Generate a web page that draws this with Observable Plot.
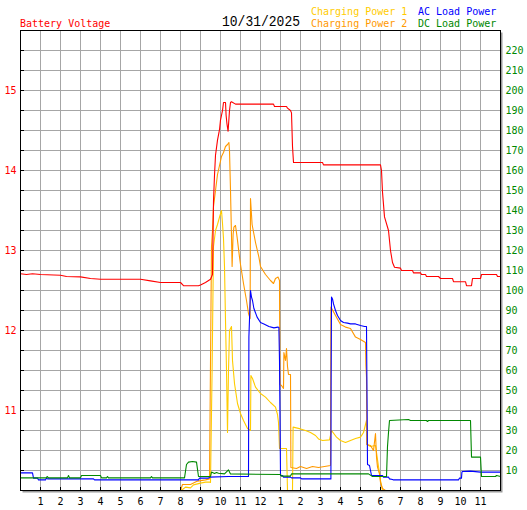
<!DOCTYPE html>
<html><head><meta charset="utf-8">
<script src="https://cdn.jsdelivr.net/npm/d3@7"></script>
<script src="https://cdn.jsdelivr.net/npm/@observablehq/plot@0.6"></script>
<style>body{margin:0;background:#fff}</style>
</head><body><div id="chart"></div>
<script>
// ---- data (hour of day, value) ----
const dateLabel = "10/31/2025";
const seriesNames = ["Battery Voltage", "Charging Power 1", "Charging Power 2", "AC Load Power", "DC Load Power"];
const seriesColors = ["#ff0000", "#ffcc00", "#ff9900", "#0000ff", "#008800"];
const hourLabels = ["1","2","3","4","5","6","7","8","9","10","11","12","1","2","3","4","5","6","7","8","9","10","11"];
const voltLabels = [11, 12, 13, 14, 15];
const powerTicks = [10,20,30,40,50,60,70,80,90,100,110,120,130,140,150,160,170,180,190,200,210,220];

// Battery voltage (V)
const batteryVoltage = [[0,12.71],[0.3,12.70],[0.6,12.71],[1,12.70],[2,12.69],[2.3,12.675],[3,12.67],[3.5,12.65],[4,12.64],[6,12.64],[6.5,12.62],[7,12.60],[8,12.60],[8.15,12.56],[8.9,12.56],[9,12.57],[9.25,12.60],[9.5,12.64],[9.6,12.70],[9.65,13.62],[9.7,13.94],[9.75,14.19],[9.85,14.38],[9.95,14.51],[10,14.63],[10.1,14.75],[10.15,14.85],[10.25,14.85],[10.28,14.69],[10.32,14.59],[10.38,14.49],[10.45,14.75],[10.5,14.85],[10.55,14.86],[10.75,14.83],[12.65,14.83],[12.7,14.80],[13.3,14.80],[13.35,14.78],[13.5,14.75],[13.55,14.72],[13.6,14.30],[13.65,14.10],[15.1,14.10],[15.15,14.07],[18,14.07],[18.05,14.0],[18.1,13.73],[18.2,13.42],[18.4,13.25],[18.5,13.0],[18.6,12.85],[18.7,12.79],[19,12.78],[19.05,12.75],[19.6,12.75],[19.65,12.72],[20,12.72],[20.05,12.70],[20.25,12.70],[20.3,12.675],[20.9,12.675],[21,12.65],[21.6,12.65],[21.65,12.61],[22.25,12.61],[22.3,12.56],[22.55,12.56],[22.6,12.65],[23,12.65],[23.05,12.70],[23.8,12.70],[23.85,12.675],[24,12.675]];

// Charging Power 1 (W)
const chargingPower1 = [[0,0],[8.0,0],[8.1,0.5],[8.25,1.7],[8.5,1.3],[8.65,2.8],[9.0,3.7],[9.25,4.2],[9.45,4.2],[9.5,4],[9.58,60],[9.65,122],[9.75,130],[9.85,133],[9.95,136.7],[10.05,140],[10.1,133.5],[10.15,126],[10.2,112],[10.25,85],[10.3,60],[10.35,29],[10.4,60],[10.45,80],[10.55,82],[10.6,65],[10.7,53.5],[10.85,43.5],[11.0,38.5],[11.15,35],[11.35,31],[11.5,30],[11.52,57.5],[11.6,56],[11.75,51.7],[12.0,48.5],[12.25,46.7],[12.5,44],[12.75,41.7],[12.85,38],[12.9,34],[12.95,21],[13.3,21],[13.35,0],[13.6,0],[13.63,31.7],[14.0,30.8],[14.25,30],[14.5,29],[14.75,27.5],[14.9,25.8],[15.1,25],[15.45,25.3],[15.55,30],[15.8,26.7],[16.0,25],[16.25,24],[16.5,25],[16.75,26],[17.0,26.7],[17.15,29],[17.3,35],[17.32,23],[17.5,22],[17.75,22.5],[17.9,12],[18.0,5],[18.1,0],[24,0]];

// Charging Power 2 (W)
const chargingPower2 = [[0,0],[8.0,0],[8.1,3],[8.5,3],[8.85,4.7],[9.25,5.3],[9.45,5.8],[9.55,122],[9.6,130],[9.65,142],[9.75,150],[9.85,158],[9.95,162.5],[10.05,167],[10.15,169],[10.25,172],[10.35,173],[10.42,174],[10.45,170],[10.5,150],[10.55,127],[10.58,112],[10.63,128],[10.67,131.7],[10.75,132.5],[10.83,126.7],[10.95,116.7],[11.0,113],[11.15,103.5],[11.3,95],[11.4,88.5],[11.48,86],[11.5,146],[11.58,133],[11.75,124],[11.92,116.7],[12.0,112],[12.25,108],[12.5,105],[12.65,103.5],[12.75,106],[12.88,106.7],[12.95,105],[12.97,53],[13.05,52.5],[13.15,51],[13.17,69],[13.25,65],[13.3,71],[13.35,62],[13.4,58],[13.5,58],[13.52,11.5],[13.8,11],[14.0,12],[14.3,11],[14.6,12],[14.9,11.5],[15.2,12],[15.5,12.5],[15.52,91.7],[15.75,87.5],[16,83],[16.25,81.7],[16.5,81],[16.75,76.7],[17,75.5],[17.25,74],[17.27,62.5],[17.3,56.7],[17.32,23],[17.5,22.5],[17.65,20],[17.75,28.5],[17.8,16.7],[17.85,11.7],[17.95,8.3],[18,4],[18.1,1],[18.25,0],[24,0]];

// AC Load Power (W)
const acLoadPower = [[0,8.8],[0.6,8.8],[0.65,6.2],[0.85,6.2],[0.9,5.3],[1.25,5.3],[1.3,6.2],[1.35,5.8],[3.65,5.8],[3.7,5.3],[8.9,5.3],[8.95,6.2],[9.4,6.2],[9.45,6.7],[10.4,7],[11.4,7],[11.42,76.7],[11.5,100],[11.55,96.7],[11.6,95],[11.67,91],[11.83,86.7],[12.0,84],[12.17,83.3],[12.42,82],[12.67,81.3],[12.87,81.7],[12.92,81.5],[12.95,65],[13.0,7.5],[13.1,7.5],[13.15,6.7],[13.5,6.7],[13.55,6.3],[14.0,6.3],[14.05,5.8],[15.52,5.8],[15.53,51.7],[15.55,96.7],[15.6,95.8],[15.65,93.3],[15.75,90],[15.85,87.5],[16.0,85],[16.15,84],[16.35,83.7],[16.5,83.3],[16.75,83.3],[17.0,82.5],[17.2,82],[17.3,82],[17.35,13],[17.45,12.5],[17.55,7.5],[18.1,7.5],[18.15,6.7],[18.4,6.7],[18.45,5.8],[18.6,5.5],[18.65,5.3],[21.9,5.3],[21.95,6.2],[22.05,6.2],[22.07,9.2],[22.1,9.5],[22.5,9.7],[23.0,9.2],[24,9.2]];

// DC Load Power (W)
const dcLoadPower = [[0,6.3],[1.3,6.3],[1.33,7],[1.4,6.3],[2.35,6.3],[2.4,7.5],[2.45,6.3],[3.0,6.3],[3.05,7.5],[4.0,7.5],[4.05,6.3],[4.3,6.3],[4.35,7],[4.4,6.3],[6.5,6.3],[6.55,7],[6.6,6.3],[8.2,6.3],[8.3,13],[8.4,14.2],[8.6,14.5],[8.8,14.2],[8.9,7],[9.5,7],[9.55,9.2],[9.7,8.5],[9.8,9],[9.9,8.6],[10.2,8.3],[10.4,10.3],[10.5,8.3],[13.0,8],[13.05,7.2],[13.5,7.2],[13.55,8.3],[17.4,8.3],[17.6,7],[18.3,7],[18.35,22],[18.4,29],[18.45,35],[19.4,35.5],[19.5,35],[20.3,35],[20.35,34.5],[20.4,35],[22.5,35],[22.55,16.7],[23.0,16.7],[23.05,7],[23.75,7],[23.8,7.5],[24,7]];

// ---- chart ----
const voltToPower = v => (v - 10) * 40; // left axis 10..15.75 V shares the 0..230 W scale
const hourTicks = hourLabels.map((_, i) => i + 1);
const lineOpts = (color) => ({x: d => d[0], y: d => d[1], stroke: color, strokeWidth: 1.1});

const chart = Plot.plot({
  width: 527,
  height: 510,
  marginLeft: 20,
  marginRight: 27,
  marginTop: 30,
  marginBottom: 20,
  style: {fontFamily: "DejaVu Sans Mono", fontSize: "10px", background: "white"},
  x: {domain: [0, 24]},
  y: {domain: [0, 230]},
  marks: [
    Plot.frame({fill: "#9a9a9a", dx: 2, dy: 2}),
    Plot.frame({fill: "white"}),
    Plot.gridX({ticks: hourTicks, stroke: "#a6a6a6", strokeOpacity: 1}),
    Plot.gridY({ticks: powerTicks, stroke: "#a6a6a6", strokeOpacity: 1}),
    Plot.line(chargingPower1, lineOpts(seriesColors[1])),
    Plot.line(chargingPower2, lineOpts(seriesColors[2])),
    Plot.line(acLoadPower, lineOpts(seriesColors[3])),
    Plot.line(dcLoadPower, lineOpts(seriesColors[4])),
    Plot.line(batteryVoltage, {x: d => d[0], y: d => voltToPower(d[1]), stroke: seriesColors[0], strokeWidth: 1.1}),
    Plot.axisX({ticks: hourTicks, tickFormat: d => hourLabels[d - 1], tickSize: 0, tickPadding: 7, fill: "black"}),
    Plot.axisX({ticks: hourTicks, tickSize: -3, fill: "none", stroke: "black"}),
    Plot.axisY({anchor: "left", ticks: voltLabels.map(voltToPower), tickFormat: d => String(d / 40 + 10), tickSize: 0, tickPadding: 4, fill: seriesColors[0]}),
    Plot.axisY({anchor: "left", ticks: powerTicks, tickSize: -4, fill: "none", stroke: "black"}),
    Plot.axisY({anchor: "right", ticks: powerTicks, tickSize: 0, tickPadding: 5, fill: seriesColors[4]}),
    Plot.frame({stroke: "black"})
  ]
});

// header: titles / legend as real text
const svg = d3.select(chart);
const header = [
  {text: seriesNames[0], x: 20, y: 26.5, fill: seriesColors[0]},
  {text: seriesNames[1], x: 311, y: 14.5, fill: seriesColors[1]},
  {text: seriesNames[2], x: 311, y: 26.5, fill: seriesColors[2]},
  {text: seriesNames[3], x: 418, y: 14.5, fill: seriesColors[3]},
  {text: seriesNames[4], x: 418, y: 26.5, fill: seriesColors[4]}
];
for (const h of header) {
  svg.append("text").attr("x", h.x).attr("y", h.y).attr("fill", h.fill)
    .attr("text-anchor", "start")
    .style("font-family", "DejaVu Sans Mono").style("font-size", "10px").text(h.text);
}
svg.append("text").attr("x", 222).attr("y", 26).attr("fill", "black")
  .attr("text-anchor", "start")
  .attr("textLength", 78).attr("lengthAdjust", "spacingAndGlyphs")
  .style("font-family", "Liberation Mono").style("font-size", "15px").text(dateLabel);

document.getElementById("chart").append(chart);
</script>
</body></html>
